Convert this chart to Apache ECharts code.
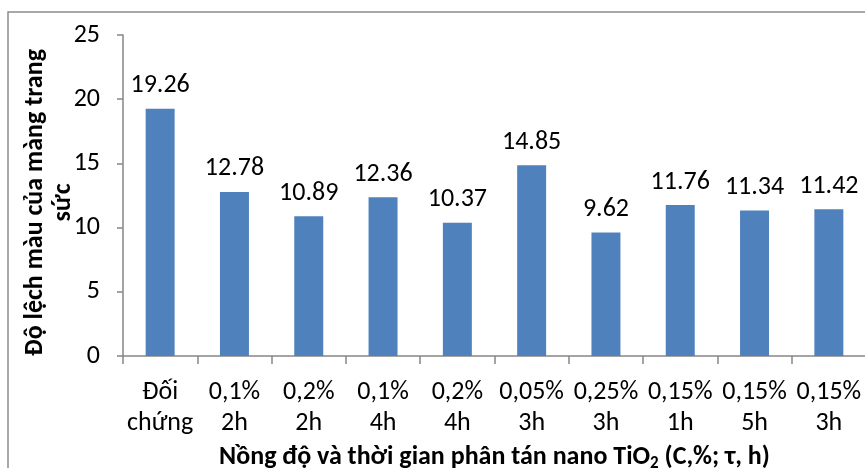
<!DOCTYPE html>
<html>
<head>
<meta charset="utf-8">
<script src="https://cdn.jsdelivr.net/npm/echarts@6/dist/echarts.min.js"></script>
<style>
  html, body { margin: 0; padding: 0; background: #fff; }
  #chart { width: 865px; height: 468px; }
</style>
</head>
<body>
<div id="chart"></div>
<script>
// Colour deviation of the finish film per TiO2 nano dispersion condition
const categories = ['Đối\nchứng', '0,1%\n2h', '0,2%\n2h', '0,1%\n4h', '0,2%\n4h',
                    '0,05%\n3h', '0,25%\n3h', '0,15%\n1h', '0,15%\n5h', '0,15%\n3h'];
const deviation = [19.26, 12.78, 10.89, 12.36, 10.37, 14.85, 9.62, 11.76, 11.34, 11.42];
const yTicks = { min: 0, max: 25, interval: 5 };

const FONT = 'Carlito, Lato, "Liberation Sans", sans-serif';
const AXIS_GRAY = '#868686';
const FS = 26;

const chart = echarts.init(document.getElementById('chart'), null, { renderer: 'canvas' });

chart.setOption({
  animation: false,
  textStyle: { fontFamily: FONT },
  grid: { left: 123, top: 35, width: 743, height: 321, containLabel: false, outerBoundsMode: 'none' },
  graphic: [{
    type: 'rect',
    shape: { x: 8, y: 12, width: 880, height: 480 },
    style: { fill: 'none', stroke: '#8c8c8c', lineWidth: 1.5 },
    silent: true
  }],
  xAxis: {
    type: 'category',
    data: categories,
    boundaryGap: true,
    axisLine: { show: true, lineStyle: { color: AXIS_GRAY, width: 1.5 } },
    axisTick: { show: true, length: 8, lineStyle: { color: AXIS_GRAY, width: 1.5 } },
    axisLabel: {
      interval: 0, margin: 21, fontSize: FS, lineHeight: 31,
      color: '#000', fontFamily: FONT
    },
    name: '{b|Nồng độ và thời gian phân tán nano TiO}{s|2}{b| (C,%; τ, h)}',
    nameLocation: 'middle',
    nameGap: 87,
    nameMoveOverlap: false,
    nameTextStyle: {
      rich: {
        b: { fontSize: FS, fontWeight: 'bold', color: '#000', fontFamily: FONT },
        s: { fontSize: 17, fontWeight: 'bold', color: '#000', fontFamily: FONT, padding: [12, 0, 0, 0] }
      }
    }
  },
  yAxis: {
    type: 'value',
    min: yTicks.min, max: yTicks.max, interval: yTicks.interval,
    splitLine: { show: false },
    axisLine: { show: true, lineStyle: { color: AXIS_GRAY, width: 1.5 } },
    axisTick: { show: true, length: 6, lineStyle: { color: AXIS_GRAY, width: 1.5 } },
    axisLabel: { margin: 23, fontSize: FS, color: '#000', fontFamily: FONT },
    name: 'Độ lệch màu của màng trang\nsức',
    nameLocation: 'middle',
    nameRotate: 90,
    nameGap: 46,
    nameMoveOverlap: false,
    nameTextStyle: {
      fontSize: FS, fontWeight: 'bold', lineHeight: 28, color: '#000', fontFamily: FONT,
      padding: [0, 14, 0, 0]
    }
  },
  series: [{
    type: 'bar',
    data: deviation,
    barWidth: '39%',
    itemStyle: { color: '#4F81BD' },
    label: {
      show: true, position: 'top', distance: 10,
      fontSize: FS, color: '#000', fontFamily: FONT,
      formatter: p => p.value.toFixed(2)
    }
  }]
});
</script>
</body>
</html>
